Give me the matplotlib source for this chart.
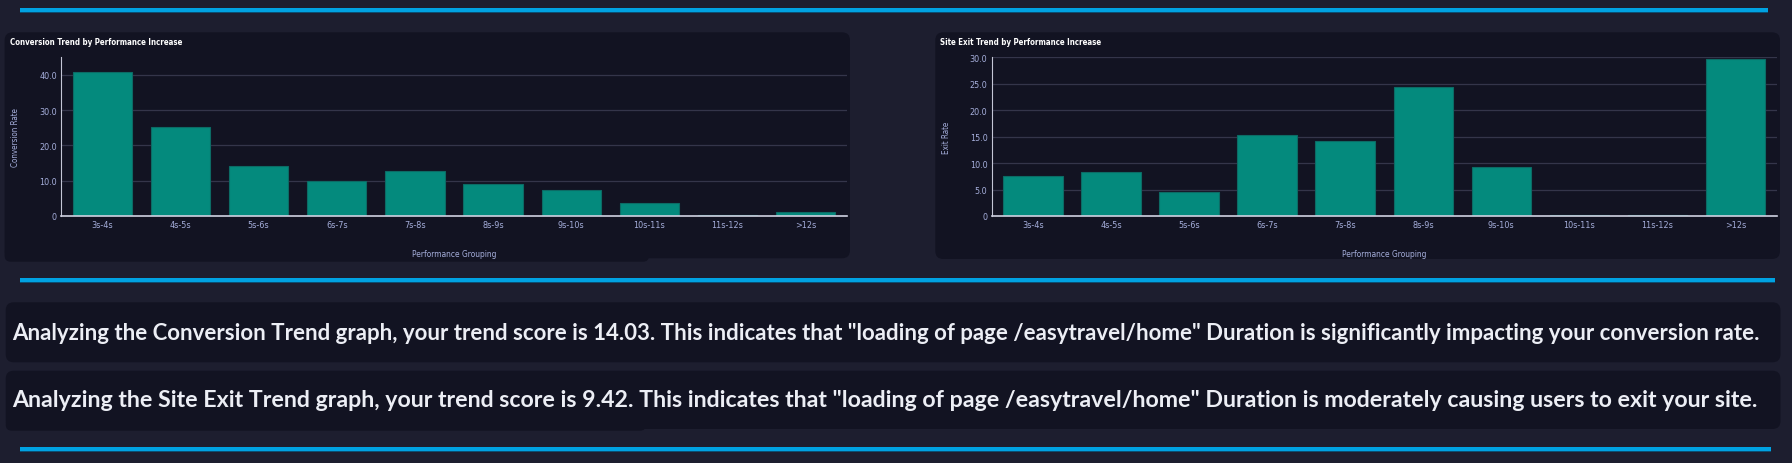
import numpy as np
import matplotlib
matplotlib.use("Agg")
import matplotlib.pyplot as plt
from matplotlib.patches import FancyBboxPatch, Rectangle

# data
groups = ["3s-4s", "4s-5s", "5s-6s", "6s-7s", "7s-8s", "8s-9s", "9s-10s", "10s-11s", "11s-12s", ">12s"]
conversion_rate = [40.8, 25.2, 14.3, 9.9, 12.9, 9.2, 7.3, 3.7, 0.3, 1.2]
exit_rate = [7.5, 8.3, 4.6, 15.4, 14.1, 24.3, 9.2, 0.2, 0.2, 29.6]
conv_ticks = [0, 10, 20, 30, 40]
exit_ticks = [0, 5, 10, 15, 20, 25, 30]
conv_score = 14.03
exit_score = 9.42
page_name = "loading of page /easytravel/home"

W, H = 1792, 464
bg = "#1d1e2f"
panel = "#121322"
blue = "#00a2e2"
bar_color = "#048a7d"
bar_edge = "#0c6b65"
grid_color = "#34354a"
tick_color = "#a5aedb"
small = dict(family="DejaVu Sans", stretch="condensed")
body = ["Lato", "DejaVu Sans"]

fig = plt.figure(figsize=(W / 100, H / 100), dpi=100, facecolor=bg)

# background layer in pixel coordinates
bgax = fig.add_axes([0, 0, 1, 1])
bgax.set_xlim(0, W)
bgax.set_ylim(H, 0)
bgax.axis("off")
bgax.set_zorder(0)


def box(x0, y0, x1, y1, r=8):
    bgax.add_patch(FancyBboxPatch((x0, y0), x1 - x0, y1 - y0,
                                  boxstyle=f"round,pad=0,rounding_size={r}",
                                  facecolor=panel, edgecolor="none"))


def blue_line(x0, x1, y):
    bgax.add_patch(Rectangle((x0, y), x1 - x0, 4, facecolor=blue, edgecolor="none"))
    bgax.add_patch(Rectangle((x0, y + 4), x1 - x0, 1, facecolor="#0b4f73", edgecolor="none"))


blue_line(20, 1768, 9)
blue_line(20, 1775, 279)
blue_line(20, 1771, 448)

# chart panels
box(4.6, 33.3, 850, 259.3)
box(4.6, 248, 649, 262.7, r=6)
box(935.3, 33.3, 1780, 260)

# text boxes
box(5.7, 303.3, 1780.5, 363.3)
box(5.7, 371.7, 1780.5, 430)
box(5.7, 420, 646, 431.7, r=6)


def fit_width(t, target):
    fig.canvas.draw()
    w = t.get_window_extent().width
    t.set_fontsize(t.get_fontsize() * target / w)


title1 = bgax.text(10.3, 42.7, "Conversion Trend by Performance Increase", **small,
                   weight="bold", fontsize=7, color="white", ha="left", va="center")
title2 = bgax.text(940, 42.7, "Site Exit Trend by Performance Increase", **small,
                   weight="bold", fontsize=7, color="white", ha="left", va="center")
fit_width(title1, 171)
title2.set_fontsize(title1.get_fontsize())

s1 = (f"Analyzing the Conversion Trend graph, your trend score is {conv_score:.2f}. "
      f"This indicates that \"{page_name}\" Duration is significantly impacting your conversion rate.")
s2 = (f"Analyzing the Site Exit Trend graph, your trend score is {exit_score:.2f}. "
      f"This indicates that \"{page_name}\" Duration is moderately causing users to exit your site.")
t1 = bgax.text(12.6, 340, s1, family=body, weight="bold", fontsize=14,
               color="#eceef5", ha="left", va="baseline")
t2 = bgax.text(12.6, 406.7, s2, family=body, weight="bold", fontsize=14,
               color="#eceef5", ha="left", va="baseline")
fit_width(t1, 1756)
fit_width(t2, 1754)


def add_px_axes(x0, y0, x1, y1):
    return fig.add_axes([x0 / W, 1 - y1 / H, (x1 - x0) / W, (y1 - y0) / H])


def fmt(v):
    return "0" if v == 0 else f"{v:.1f}"


def draw_chart(ax, values, ticks, ymax, ylabel):
    x = np.arange(len(groups))
    ax.set_facecolor("none")
    ax.bar(x, values, width=0.76, color=bar_color, edgecolor=bar_edge,
           linewidth=0.8, zorder=3)
    ax.set_xlim(-0.53, len(groups) - 0.47)
    ax.set_ylim(0, ymax)
    ax.set_xticks(x, groups)
    ax.set_yticks(ticks, [fmt(t) for t in ticks])
    ax.grid(axis="y", color=grid_color, linewidth=0.9)
    ax.set_axisbelow(True)
    for side in ["top", "right"]:
        ax.spines[side].set_visible(False)
    ax.spines["left"].set_color("#c4c6d6")
    ax.spines["left"].set_linewidth(0.8)
    ax.spines["bottom"].set_color("#d0d2e2")
    ax.spines["bottom"].set_linewidth(1.2)
    ax.spines["bottom"].set_zorder(4)
    ax.tick_params(length=0, colors=tick_color, pad=3)
    for lab in ax.get_xticklabels() + ax.get_yticklabels():
        lab.set_family(small["family"])
        lab.set_stretch(small["stretch"])
        lab.set_fontsize(6.5)
    ax.set_xlabel("Performance Grouping", **small, fontsize=6, color=tick_color)
    ax.xaxis.set_label_coords(0.5, -(254.3 - 217) / 158.7)
    ax.xaxis.label.set_va("center")
    ax.set_ylabel(ylabel, **small, fontsize=5.8, color=tick_color)
    ax.yaxis.label.set_va("center")


ax1 = add_px_axes(61, 58.3, 847, 217)
draw_chart(ax1, conversion_rate, conv_ticks, 45, "Conversion Rate")
ax1.yaxis.set_label_coords((16 - 61) / 786, 0.5)

ax2 = add_px_axes(991.6, 58.3, 1776.7, 217)
draw_chart(ax2, exit_rate, exit_ticks, 30, "Exit Rate")
ax2.yaxis.set_label_coords((946 - 991.6) / 785.1, 0.5)

plt.savefig("out.png", dpi=100, facecolor=bg)
